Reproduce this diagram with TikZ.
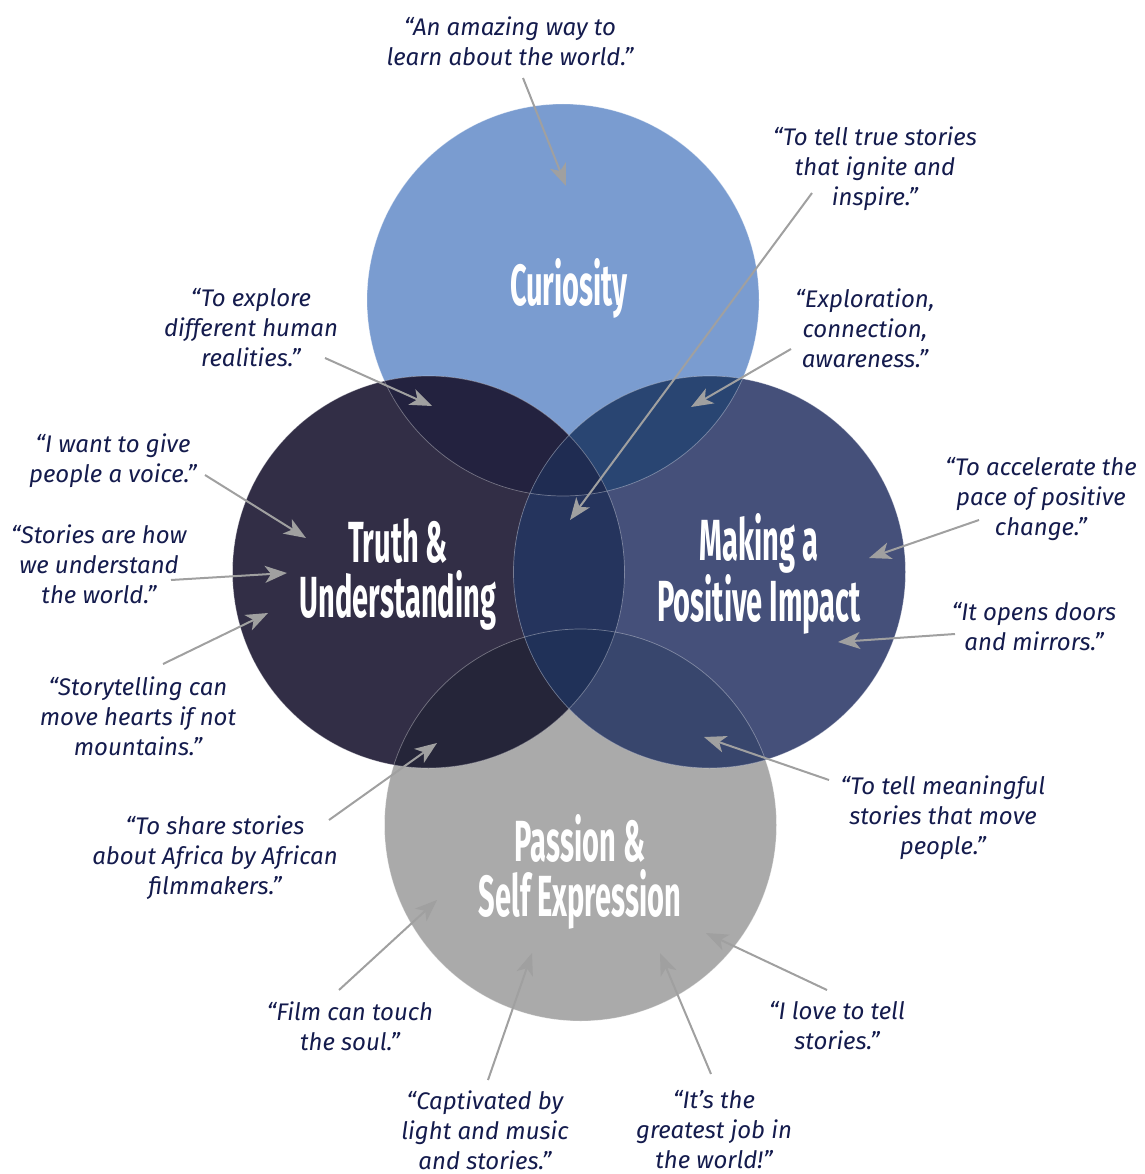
\documentclass[tikz,border=0pt]{standalone}
\usepackage{fontspec}
\setmainfont{Fira Sans}
\newfontfamily\headfont[FakeStretch=0.5]{Fira Sans}
\usetikzlibrary{arrows.meta}

\definecolor{curio}{HTML}{7A9CD0}
\definecolor{truth}{HTML}{322E46}
\definecolor{impact}{HTML}{45507A}
\definecolor{passion}{HTML}{AAAAAA}
\definecolor{curiotruth}{HTML}{23223F}
\definecolor{curioimpact}{HTML}{294572}
\definecolor{truthimpact}{HTML}{25345D}
\definecolor{truthpassion}{HTML}{252539}
\definecolor{impactpassion}{HTML}{38466D}
\definecolor{topcore}{HTML}{1F2C52}
\definecolor{bottomcore}{HTML}{203158}
\definecolor{quotetext}{HTML}{141B4D}
\definecolor{pointgrey}{HTML}{A0A0A0}

\tikzset{
  quote/.style={font=\itshape\fontsize{24}{30}\selectfont, text=quotetext, align=center, inner sep=0pt},
  heading/.style={font=\headfont\bfseries\fontsize{58}{55}\selectfont, text=white, align=center, inner sep=0pt},
  pointer/.style={draw=pointgrey, line width=2pt, -{Stealth[length=22pt,width=17pt,inset=6pt]}},
  rim/.style={draw=white, draw opacity=.35, line width=.7pt},
}

\begin{document}
\begin{tikzpicture}[x=1pt, y=-1pt]
	\useasboundingbox (0,0) rectangle (1144,1174);

	% circle centres
	\coordinate (cur) at (563,300);
	\coordinate (tru) at (428.5,572);
	\coordinate (imp) at (709.5,572);
	\coordinate (pas) at (580.5,825);

	\fill[curio] (cur) circle[radius=196pt];
	\fill[passion] (pas) circle[radius=196pt];
	\fill[truth] (tru) circle[radius=196pt];
	\fill[impact] (imp) circle[radius=196pt];

	% overlaps
	\begin{scope}
		\clip (cur) circle[radius=196pt];
		\fill[curiotruth] (tru) circle[radius=196pt];
		\fill[curioimpact] (imp) circle[radius=196pt];
	\end{scope}
	\begin{scope}
		\clip (pas) circle[radius=196pt];
		\fill[truthpassion] (tru) circle[radius=196pt];
		\fill[impactpassion] (imp) circle[radius=196pt];
	\end{scope}
	\begin{scope}
		\clip (tru) circle[radius=196pt];
		\fill[truthimpact] (imp) circle[radius=196pt];
		\clip (imp) circle[radius=196pt];
		\fill[topcore] (cur) circle[radius=196pt];
		\fill[bottomcore] (pas) circle[radius=196pt];
	\end{scope}

	\draw[rim] (cur) circle[radius=196pt];
	\draw[rim] (tru) circle[radius=196pt];
	\draw[rim] (imp) circle[radius=196pt];
	\draw[rim] (pas) circle[radius=196pt];

	% headings
	\node[heading] (hcur) at (569,288) {Curiosity};
	\node[heading] (htru) at (398,574) {Truth \&\\Understanding};
	\node[heading] (himp) at (759,574) {Making a\\Positive Impact};
	\node[heading] (hpas) at (580,872) {Passion \&\\Self Expression};

	% quotes
	\node[quote] (qamazing) at (510,41) {“An amazing way to\\learn about the world.”};
	\node[quote] (qtrue) at (875,169) {“To tell true stories\\that ignite and\\inspire.”};
	\node[quote] (qexplor) at (865,328) {“Exploration,\\connection,\\awareness.”};
	\node[quote] (qrealit) at (251,328) {“To explore\\different human\\realities.”};
	\node[quote] (qvoice) at (113,461) {“I want to give\\people a voice.”};
	\node[quote] (qunder) at (99,564) {“Stories are how\\we understand\\the world.”};
	\node[quote] (qhearts) at (138,716) {“Storytelling can\\move hearts if not\\mountains.”};
	\node[quote] (qafrica) at (215,858) {“To share stories\\about Africa by African\\filmmakers.”};
	\node[quote] (qsoul) at (350,1026) {“Film can touch\\the soul.”};
	\node[quote] (qlight) at (485,1130) {“Captivated by\\light and music\\and stories.”};
	\node[quote] (qjob) at (714,1130) {“It's the\\greatest job in\\the world!”};
	\node[quote] (qlove) at (837,1026) {“I love to tell\\stories.”};
	\node[quote] (qmove) at (943,818) {“To tell meaningful\\stories that move\\people.”};
	\node[quote] (qdoors) at (1034,627) {“It opens doors\\and mirrors.”};
	\node[quote] (qpace) at (1041,499) {“To accelerate the\\pace of positive\\change.”};

	% pointer tails and tips
	\coordinate (a1) at (523,78);   \coordinate (b1) at (566,186);
	\coordinate (a2) at (812,193);  \coordinate (b2) at (570,520);
	\coordinate (a3) at (791,349);  \coordinate (b3) at (691,407);
	\coordinate (a4) at (325,358);  \coordinate (b4) at (432,406);
	\coordinate (a5) at (205,475);  \coordinate (b5) at (306,538);
	\coordinate (a6) at (171,580);  \coordinate (b6) at (287,573);
	\coordinate (a7) at (163,664);  \coordinate (b7) at (268,613);
	\coordinate (a8) at (979,520);  \coordinate (b8) at (869,558);
	\coordinate (a9) at (955,634);  \coordinate (b9) at (838,642);
	\coordinate (a10) at (829,780); \coordinate (b10) at (704,737);
	\coordinate (a11) at (329,820); \coordinate (b11) at (437,743);
	\coordinate (a12) at (339,990); \coordinate (b12) at (437,900);
	\coordinate (a13) at (488,1080); \coordinate (b13) at (532,953);
	\coordinate (a14) at (711,1074); \coordinate (b14) at (660,953);
	\coordinate (a15) at (827,990); \coordinate (b15) at (706,933);

	\foreach \i in {1,...,15}
		\draw[pointer] (a\i) -- (b\i);
\end{tikzpicture}
\end{document}
